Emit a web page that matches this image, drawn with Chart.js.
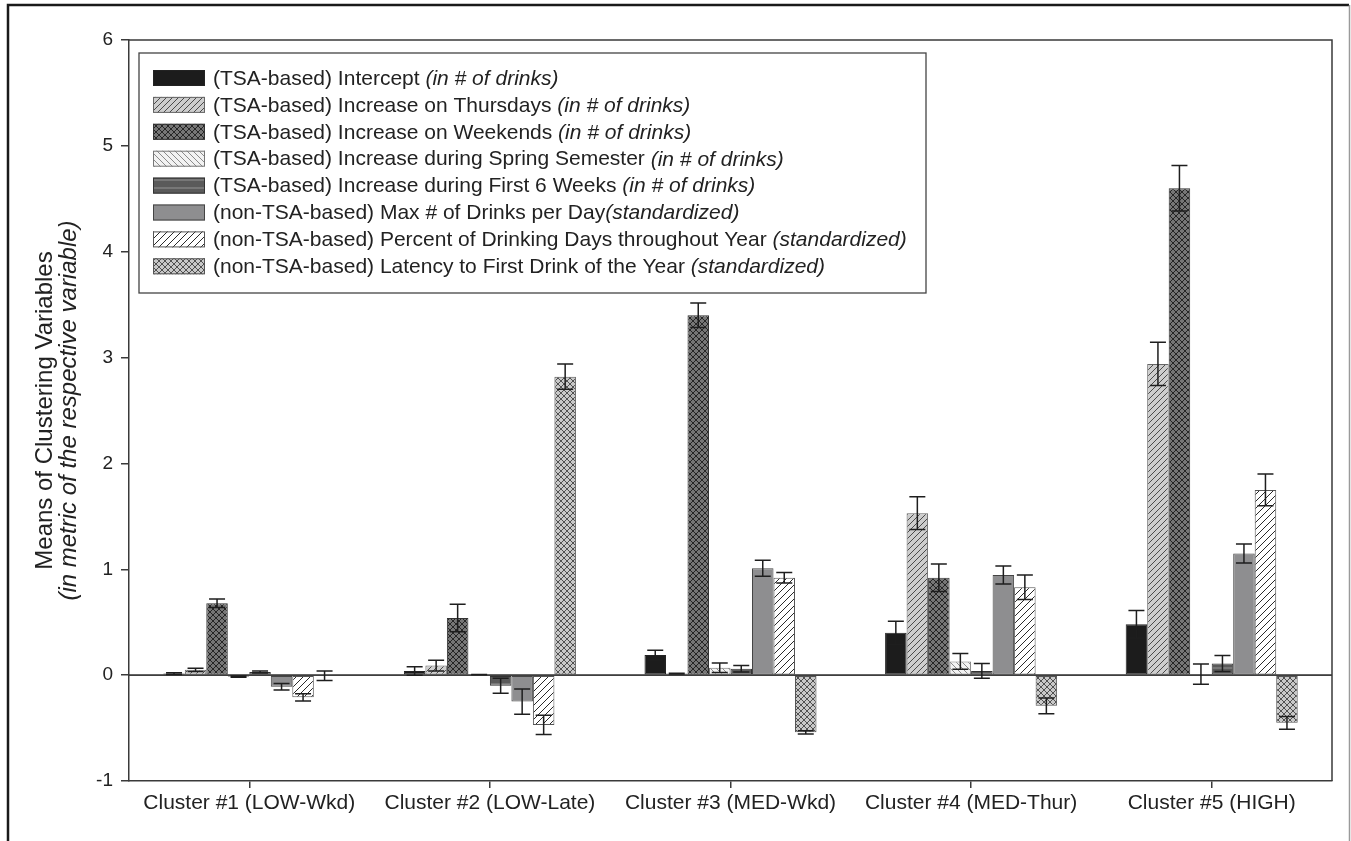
<!DOCTYPE html>
<html>
<head>
<meta charset="utf-8">
<script src="https://cdn.jsdelivr.net/npm/chart.js@4.4.1/dist/chart.umd.min.js"></script>
<style>
html,body{margin:0;padding:0;background:#fff;}
#wrap{width:1351px;height:841px;}
</style>
</head>
<body>
<div id="wrap"><canvas id="c" width="1351" height="841"></canvas></div>
<script>
// ---------------- DATA ----------------
const categories = ['Cluster #1 (LOW-Wkd)', 'Cluster #2 (LOW-Late)', 'Cluster #3 (MED-Wkd)', 'Cluster #4 (MED-Thur)', 'Cluster #5 (HIGH)'];
const seriesNames = [
  '(TSA-based) Intercept ',
  '(TSA-based) Increase on Thursdays ',
  '(TSA-based) Increase on Weekends ',
  '(TSA-based) Increase during Spring Semester ',
  '(TSA-based) Increase during First 6 Weeks ',
  '(non-TSA-based) Max # of Drinks per Day',
  '(non-TSA-based) Percent of Drinking Days throughout Year ',
  '(non-TSA-based) Latency to First Drink of the Year '
];
const seriesUnits = [
  '(in # of drinks)', '(in # of drinks)', '(in # of drinks)', '(in # of drinks)', '(in # of drinks)',
  '(standardized)', '(standardized)', '(standardized)'
];
const interceptMeans = [0.015, 0.04, 0.19, 0.40, 0.48];
const interceptErr   = [0.008, 0.04, 0.045, 0.11, 0.13];
const thursdayMeans  = [0.05, 0.09, 0.015, 1.53, 2.94];
const thursdayErr    = [0.015, 0.05, 0.004, 0.155, 0.205];
const weekendMeans   = [0.68, 0.54, 3.40, 0.92, 4.60];
const weekendErr     = [0.04, 0.13, 0.115, 0.13, 0.215];
const springMeans    = [-0.015, 0.005, 0.07, 0.13, 0.01];
const springErr      = [0.006, 0.002, 0.045, 0.075, 0.095];
const first6Means    = [0.03, -0.10, 0.06, 0.04, 0.11];
const first6Err      = [0.01, 0.07, 0.03, 0.07, 0.075];
const maxDrinksMeans = [-0.11, -0.25, 1.01, 0.945, 1.15];
const maxDrinksErr   = [0.03, 0.12, 0.075, 0.085, 0.09];
const pctDaysMeans   = [-0.21, -0.47, 0.92, 0.83, 1.75];
const pctDaysErr     = [0.035, 0.09, 0.05, 0.115, 0.15];
const latencyMeans   = [-0.005, 2.82, -0.54, -0.29, -0.45];
const latencyErr     = [0.045, 0.12, 0.015, 0.075, 0.06];
const yTicks = [-1, 0, 1, 2, 3, 4, 5, 6];
const yTitle1 = 'Means of Clustering Variables';
const yTitle2 = '(in metric of the respective variable)';

const allMeans = [interceptMeans, thursdayMeans, weekendMeans, springMeans, first6Means, maxDrinksMeans, pctDaysMeans, latencyMeans];
const allErrs  = [interceptErr, thursdayErr, weekendErr, springErr, first6Err, maxDrinksErr, pctDaysErr, latencyErr];

// ---------------- FONTS ----------------
const FONT = '"Liberation Sans", Arial, sans-serif';
function hasFont(name) {
  const c = document.createElement('canvas').getContext('2d');
  const s = 'abcdefghijklmnopqrstuvwxyzABCDEFGHIJ0123456789';
  c.font = '40px monospace'; const a = c.measureText(s).width;
  c.font = '40px "' + name + '", monospace'; const b = c.measureText(s).width;
  return Math.abs(a - b) > 0.5;
}
const NARROW = hasFont('Liberation Sans Narrow');
const LEG_FAMILY = NARROW ? '"Liberation Sans Narrow", "Liberation Sans", Arial, sans-serif' : FONT;
const LEG_SIZE = NARROW ? 26 : 21;

// ---------------- PATTERNS ----------------
function makePattern(bg, line, type, s, lw) {
  const c = document.createElement('canvas');
  c.width = s; c.height = s;
  const x = c.getContext('2d');
  x.fillStyle = bg; x.fillRect(0, 0, s, s);
  if (type) {
    x.strokeStyle = line; x.lineWidth = lw;
    x.beginPath();
    if (type === 'fwd' || type === 'cross') {
      x.moveTo(-1, s + 1); x.lineTo(s + 1, -1);
      x.moveTo(-1, 1); x.lineTo(1, -1);
      x.moveTo(s - 1, s + 1); x.lineTo(s + 1, s - 1);
    }
    if (type === 'back' || type === 'cross') {
      x.moveTo(-1, -1); x.lineTo(s + 1, s + 1);
      x.moveTo(s - 1, -1); x.lineTo(s + 1, 1);
      x.moveTo(-1, s - 1); x.lineTo(1, s + 1);
    }
    if (type === 'horiz') {
      x.moveTo(0, s / 2); x.lineTo(s, s / 2);
    }
    x.stroke();
  }
  const ctx = document.getElementById('c').getContext('2d');
  return ctx.createPattern(c, 'repeat');
}
const fills = [
  '#1c1c1c',
  makePattern('#cdcdcd', '#4a4a4a', 'fwd', 6, 1),
  makePattern('#767676', '#262626', 'cross', 6, 1),
  makePattern('#f2f2f2', '#8a8a8a', 'back', 6, 1),
  makePattern('#5a5a5a', '#8c8c8c', 'horiz', 8, 1.2),
  '#8e8e90',
  makePattern('#ffffff', '#2a2a2a', 'fwd', 7, 1),
  makePattern('#c8c8c8', '#505050', 'cross', 6, 1)
];
const borders = ['#222', '#666', '#333', '#777', '#333', '#444', '#555', '#555'];

// ---------------- PLUGINS ----------------
const decor = {
  id: 'decor',
  beforeDatasetsDraw(chart) {
    const { ctx, chartArea: a, scales: { y } } = chart;
    ctx.save();
    const y0 = y.getPixelForValue(0);
    ctx.strokeStyle = '#333'; ctx.lineWidth = 1.2;
    ctx.beginPath(); ctx.moveTo(a.left, y0); ctx.lineTo(a.right, y0); ctx.stroke();
    ctx.restore();
  },
  afterDatasetsDraw(chart) {
    const { ctx, chartArea: a, scales: { y } } = chart;
    ctx.save();
    const y0 = y.getPixelForValue(0);
    ctx.strokeStyle = '#333'; ctx.lineWidth = 1.2;
    ctx.beginPath(); ctx.moveTo(a.left, y0); ctx.lineTo(a.right, y0); ctx.stroke();
    // error bars
    ctx.strokeStyle = '#1e1e1e'; ctx.lineWidth = 1.5;
    chart.data.datasets.forEach((ds, i) => {
      const meta = chart.getDatasetMeta(i);
      meta.data.forEach((bar, j) => {
        const v = ds.data[j], e = ds.errors[j];
        const yt = y.getPixelForValue(v + e), yb = y.getPixelForValue(v - e);
        const hw = 8;
        ctx.beginPath();
        ctx.moveTo(bar.x, yt); ctx.lineTo(bar.x, yb);
        ctx.moveTo(bar.x - hw, yt); ctx.lineTo(bar.x + hw, yt);
        ctx.moveTo(bar.x - hw, yb); ctx.lineTo(bar.x + hw, yb);
        ctx.stroke();
      });
    });
    ctx.restore();
  },
  afterDraw(chart) {
    const { ctx, chartArea: a } = chart;
    ctx.save();
    // plot box top & right
    ctx.strokeStyle = '#3a3a3a'; ctx.lineWidth = 1.5;
    ctx.beginPath();
    ctx.moveTo(a.left, a.top); ctx.lineTo(a.right, a.top); ctx.lineTo(a.right, a.bottom);
    ctx.stroke();
    // outer frame
    ctx.strokeStyle = '#1a1a1a'; ctx.lineWidth = 2.5;
    ctx.beginPath();
    ctx.moveTo(8, 860); ctx.lineTo(8, 5); ctx.lineTo(1349, 5);
    ctx.stroke();
    ctx.strokeStyle = '#9a9a9a'; ctx.lineWidth = 1.5;
    ctx.beginPath(); ctx.moveTo(1349.5, 5); ctx.lineTo(1349.5, 860); ctx.stroke();
    // y title
    ctx.fillStyle = '#222';
    ctx.textAlign = 'center'; ctx.textBaseline = 'middle';
    const cy = (a.top + a.bottom) / 2;
    ctx.translate(45, cy); ctx.rotate(-Math.PI / 2);
    ctx.font = '24px ' + FONT;
    ctx.fillText(yTitle1, 0, 0);
    ctx.font = 'italic 24px ' + FONT;
    ctx.fillText(yTitle2, 0, 24);
    ctx.setTransform(1, 0, 0, 1, 0, 0);
    // legend
    const lx = 139, ly = 53, lw = 787, lh = 240;
    ctx.fillStyle = '#fff'; ctx.fillRect(lx, ly, lw, lh);
    ctx.strokeStyle = '#444'; ctx.lineWidth = 1.3;
    ctx.strokeRect(lx, ly, lw, lh);
    ctx.textAlign = 'left'; ctx.textBaseline = 'middle';
    for (let i = 0; i < seriesNames.length; i++) {
      const ry = 78 + i * 26.9;
      ctx.fillStyle = fills[i];
      ctx.fillRect(153, ry - 8, 52, 16);
      ctx.strokeStyle = borders[i]; ctx.lineWidth = 1;
      ctx.strokeRect(153.5, ry - 7.5, 51, 15);
      ctx.fillStyle = '#222';
      ctx.font = LEG_SIZE + 'px ' + LEG_FAMILY;
      ctx.fillText(seriesNames[i], 213, ry + 1);
      const w = ctx.measureText(seriesNames[i]).width;
      ctx.font = 'italic ' + LEG_SIZE + 'px ' + LEG_FAMILY;
      ctx.fillText(seriesUnits[i], 213 + w, ry + 1);
    }
    ctx.restore();
  }
};

// ---------------- CHART ----------------
new Chart(document.getElementById('c'), {
  type: 'bar',
  data: {
    labels: categories,
    datasets: allMeans.map((d, i) => ({
      label: seriesNames[i] + seriesUnits[i],
      data: d,
      errors: allErrs[i],
      backgroundColor: fills[i],
      borderColor: borders[i],
      borderWidth: 1,
      borderSkipped: false,
      categoryPercentage: 0.715,
      barPercentage: 1.0
    }))
  },
  options: {
    responsive: false,
    devicePixelRatio: 1,
    animation: false,
    layout: { padding: { top: 40, right: 19, left: 0, bottom: 0 } },
    plugins: { legend: { display: false }, tooltip: { enabled: false } },
    scales: {
      x: {
        afterFit(s) { s.height = 60; },
        grid: { display: true, offset: false, drawOnChartArea: false, drawTicks: true, tickLength: 7, color: '#3a3a3a', lineWidth: 1.5 },
        border: { display: true, color: '#3a3a3a', width: 1.5 },
        ticks: { color: '#222', font: { family: FONT, size: 21 }, padding: 3, maxRotation: 0, autoSkip: false }
      },
      y: {
        min: -1, max: 6,
        afterFit(s) { s.width = 129; },
        afterBuildTicks(s) { s.ticks = yTicks.map(v => ({ value: v })); },
        grid: { display: true, drawOnChartArea: false, drawTicks: true, tickLength: 8, color: '#3a3a3a', lineWidth: 1.5 },
        border: { display: true, color: '#3a3a3a', width: 1.5 },
        ticks: { color: '#222', font: { family: FONT, size: 19 }, padding: 8 }
      }
    }
  },
  plugins: [decor]
});
</script>
</body>
</html>
